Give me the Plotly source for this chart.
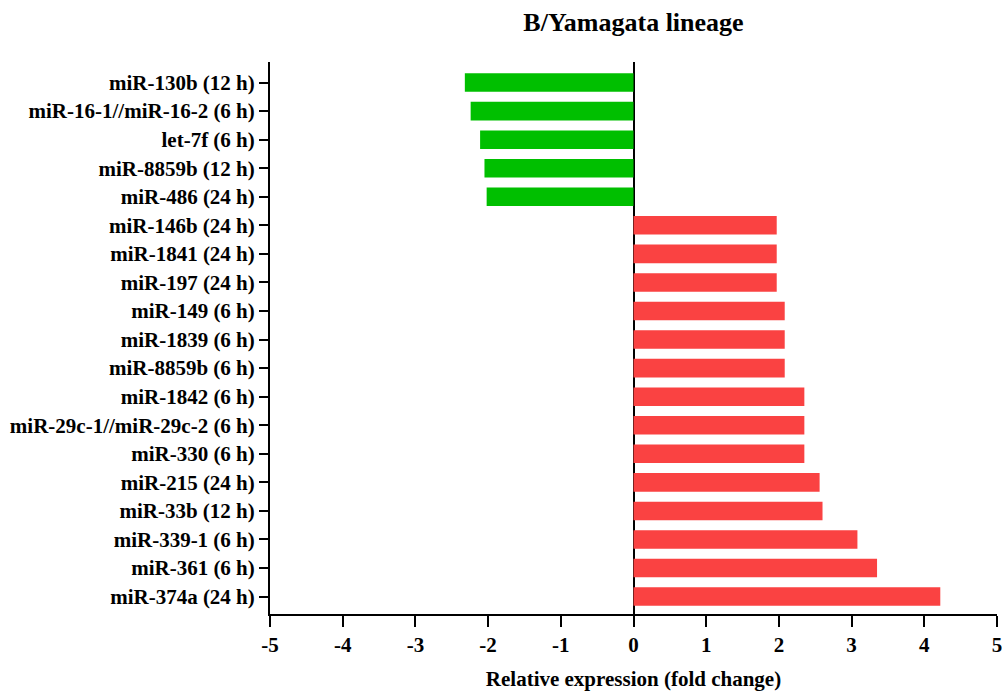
import plotly.graph_objects as go

categories = [
    "miR-130b (12 h)", "miR-16-1//miR-16-2 (6 h)", "let-7f (6 h)", "miR-8859b (12 h)",
    "miR-486 (24 h)", "miR-146b (24 h)", "miR-1841 (24 h)", "miR-197 (24 h)",
    "miR-149 (6 h)", "miR-1839 (6 h)", "miR-8859b (6 h)", "miR-1842 (6 h)",
    "miR-29c-1//miR-29c-2 (6 h)", "miR-330 (6 h)", "miR-215 (24 h)", "miR-33b (12 h)",
    "miR-339-1 (6 h)", "miR-361 (6 h)", "miR-374a (24 h)",
]
values = [-2.32, -2.24, -2.11, -2.05, -2.02,
          1.97, 1.97, 1.97, 2.08, 2.08, 2.08, 2.35, 2.35, 2.35,
          2.56, 2.60, 3.08, 3.35, 4.22]
x_ticks = [-5, -4, -3, -2, -1, 0, 1, 2, 3, 4, 5]

GREEN = "#00BF00"
RED = "#FA4242"
colors = [GREEN if v < 0 else RED for v in values]

font_family = "Liberation Serif, Times New Roman, serif"

fig = go.Figure(go.Bar(
    x=values, y=categories, orientation="h",
    marker=dict(color=colors, line=dict(width=0)),
    width=0.65,
))

L, R, T, B = 270, 5, 62, 79
fig.update_layout(
    width=1002, height=693,
    margin=dict(l=L, r=R, t=T, b=B, autoexpand=False),
    paper_bgcolor="white", plot_bgcolor="white",
    font=dict(family=font_family, color="black"),
    showlegend=False,
    title=dict(text="<b>B/Yamagata lineage</b>", x=(L + 1002 - R) / 2 / 1002, xanchor="center",
               y=1 - 22 / 693, yanchor="middle", font=dict(size=26, family=font_family)),
)

fig.update_xaxes(
    range=[-5, 5], tickvals=x_ticks, ticktext=[f"<b>{t}</b>" for t in x_ticks],
    showgrid=False, showline=True, linecolor="black", linewidth=2,
    ticks="outside", ticklen=11, tickwidth=2, tickcolor="black",
    zeroline=True, zerolinecolor="black", zerolinewidth=2,
    tickfont=dict(size=21, family=font_family),
    ticklabeloverflow="allow", automargin=False,
    title=dict(text="<b>Relative expression (fold change)</b>", font=dict(size=21, family=font_family), standoff=15),
)

fig.update_yaxes(
    type="category", categoryorder="array", categoryarray=categories,
    range=[18.61, -0.72],
    ticktext=[f"<b>{c}</b>" for c in categories], tickvals=categories,
    showgrid=False, showline=True, linecolor="black", linewidth=2,
    ticks="outside", ticklen=9, tickwidth=2, tickcolor="black",
    tickfont=dict(size=21, family=font_family), automargin=False,
)

fig.write_html("out.html")
